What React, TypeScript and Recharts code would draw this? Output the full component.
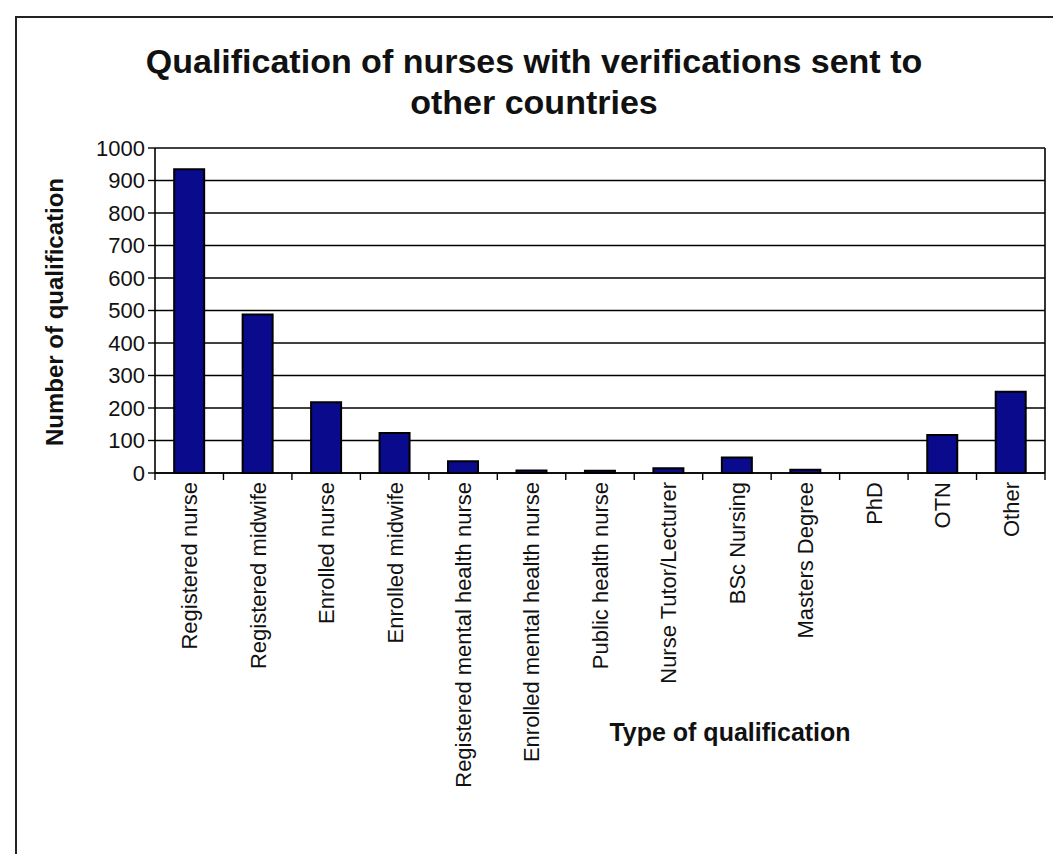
import React from 'react'
import { BarChart, Bar, XAxis, YAxis, CartesianGrid } from 'recharts'

// Qualification categories and counts
const qualifications = [
  'Registered nurse',
  'Registered midwife',
  'Enrolled nurse',
  'Enrolled midwife',
  'Registered mental health nurse',
  'Enrolled mental health nurse',
  'Public health nurse',
  'Nurse Tutor/Lecturer',
  'BSc Nursing',
  'Masters Degree',
  'PhD',
  'OTN',
  'Other',
]
const counts = [935, 488, 218, 123, 36, 8, 7, 15, 48, 10, 0, 117, 250]
const yTicks = [0, 100, 200, 300, 400, 500, 600, 700, 800, 900, 1000]

const data = qualifications.map((name, i) => ({ name, count: counts[i] }))

const FONT = '"Liberation Sans", Arial, Helvetica, sans-serif'

// rotated category label plus Excel-style tick marks between the categories
function CategoryTick(props: any) {
  const { x, y, payload, width, visibleTicksCount, index } = props
  const half = payload?.offset || width / visibleTicksCount / 2
  const isLast = index === visibleTicksCount - 1
  return (
    <g>
      <line x1={x - half} y1={y} x2={x - half} y2={y + 7} stroke="#000" strokeWidth={1.4} />
      {isLast && <line x1={x + half} y1={y} x2={x + half} y2={y + 7} stroke="#000" strokeWidth={1.4} />}
      <text
        x={x}
        y={y + 9}
        transform={`rotate(-90, ${x}, ${y + 9})`}
        textAnchor="end"
        dy="0.36em"
        fontSize={22}
        fontFamily={FONT}
        fill="#111"
      >
        {payload.value}
      </text>
    </g>
  )
}

export default function App() {
  return (
    <div style={{ position: 'relative', width: 1053, height: 846, fontFamily: FONT, overflow: 'hidden' }}>
      <div
        style={{
          position: 'absolute',
          left: 7,
          top: 8,
          width: 1080,
          height: 860,
          border: '2px solid #222',
          boxSizing: 'border-box',
        }}
      />
      <div
        style={{
          position: 'absolute',
          left: 526,
          top: 33,
          transform: 'translateX(-50%)',
          textAlign: 'center',
          whiteSpace: 'nowrap',
          fontWeight: 'bold',
          fontSize: 34,
          lineHeight: '41px',
          color: '#111',
        }}
      >
        Qualification of nurses with verifications sent to
        <br />
        other countries
      </div>

      <BarChart
        width={1053}
        height={846}
        data={data}
        margin={{ top: 140, right: 15, bottom: 121, left: 77 }}
        barCategoryGap="28%"
        style={{ position: 'absolute', left: 0, top: 0 }}
      >
        <CartesianGrid yAxisId="y" vertical={false} stroke="#000" strokeWidth={1.4} />
        <XAxis
          dataKey="name"
          interval={0}
          height={260}
          axisLine={{ stroke: '#000', strokeWidth: 1.6 }}
          tickLine={false}
          tickSize={0}
          tickMargin={0}
          tick={<CategoryTick />}
        />
        <YAxis
          yAxisId="y"
          domain={[0, 1000]}
          ticks={yTicks}
          width={70}
          tickSize={7}
          tickMargin={3}
          axisLine={{ stroke: '#000', strokeWidth: 1.6 }}
          tickLine={{ stroke: '#000', strokeWidth: 1.4 }}
          tick={{ fontSize: 22, fill: '#111', fontFamily: FONT }}
        />
        <YAxis
          yAxisId="right"
          orientation="right"
          domain={[0, 1000]}
          width={1}
          tick={false}
          tickLine={false}
          axisLine={{ stroke: '#000', strokeWidth: 1.6 }}
        />
        <Bar
          yAxisId="y"
          dataKey="count"
          fill="#0a0a8c"
          stroke="#000"
          strokeWidth={2}
          isAnimationActive={false}
        />
      </BarChart>

      <div
        style={{
          position: 'absolute',
          left: 47,
          top: 304,
          transform: 'translate(-50%, -50%) rotate(-90deg)',
          whiteSpace: 'nowrap',
          fontWeight: 'bold',
          fontSize: 24,
          color: '#111',
        }}
      >
        Number of qualification
      </div>
      <div
        style={{
          position: 'absolute',
          left: 722,
          top: 724,
          transform: 'translate(-50%, -50%)',
          whiteSpace: 'nowrap',
          fontWeight: 'bold',
          fontSize: 25,
          color: '#111',
        }}
      >
        Type of qualification
      </div>
    </div>
  )
}
